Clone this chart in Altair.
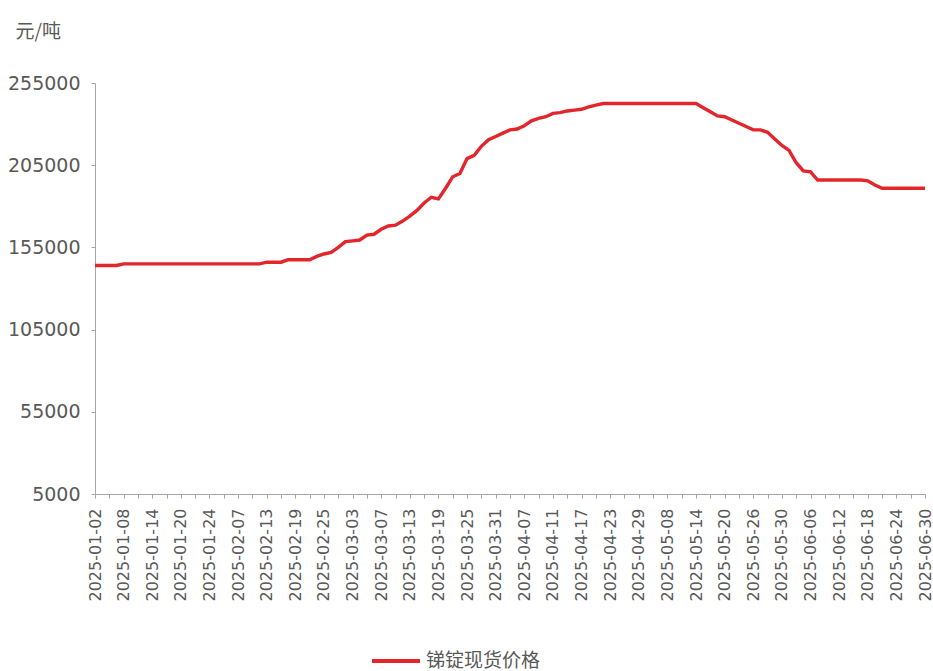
import json
import altair as alt
import pandas as pd

dates = [
    "2025-01-02", "2025-01-03", "2025-01-06", "2025-01-07", "2025-01-08", "2025-01-09",
    "2025-01-10", "2025-01-13", "2025-01-14", "2025-01-15", "2025-01-16", "2025-01-17",
    "2025-01-20", "2025-01-21", "2025-01-22", "2025-01-23", "2025-01-24", "2025-01-27",
    "2025-02-05", "2025-02-06", "2025-02-07", "2025-02-10", "2025-02-11", "2025-02-12",
    "2025-02-13", "2025-02-14", "2025-02-17", "2025-02-18", "2025-02-19", "2025-02-20",
    "2025-02-21", "2025-02-24", "2025-02-25", "2025-02-26", "2025-02-27", "2025-02-28",
    "2025-03-03", "2025-03-04", "2025-03-05", "2025-03-06", "2025-03-07", "2025-03-10",
    "2025-03-11", "2025-03-12", "2025-03-13", "2025-03-14", "2025-03-17", "2025-03-18",
    "2025-03-19", "2025-03-20", "2025-03-21", "2025-03-24", "2025-03-25", "2025-03-26",
    "2025-03-27", "2025-03-28", "2025-03-31", "2025-04-01", "2025-04-02", "2025-04-03",
    "2025-04-07", "2025-04-08", "2025-04-09", "2025-04-10", "2025-04-11", "2025-04-14",
    "2025-04-15", "2025-04-16", "2025-04-17", "2025-04-18", "2025-04-21", "2025-04-22",
    "2025-04-23", "2025-04-24", "2025-04-25", "2025-04-28", "2025-04-29", "2025-04-30",
    "2025-05-06", "2025-05-07", "2025-05-08", "2025-05-09", "2025-05-12", "2025-05-13",
    "2025-05-14", "2025-05-15", "2025-05-16", "2025-05-19", "2025-05-20", "2025-05-21",
    "2025-05-22", "2025-05-23", "2025-05-26", "2025-05-27", "2025-05-28", "2025-05-29",
    "2025-05-30", "2025-06-03", "2025-06-04", "2025-06-05", "2025-06-06", "2025-06-09",
    "2025-06-10", "2025-06-11", "2025-06-12", "2025-06-13", "2025-06-16", "2025-06-17",
    "2025-06-18", "2025-06-19", "2025-06-20", "2025-06-23", "2025-06-24", "2025-06-25",
    "2025-06-26", "2025-06-27", "2025-06-30",
]

prices = [
    144000, 144000, 144000, 144000,
    145000, 145000, 145000, 145000, 145000, 145000, 145000, 145000, 145000, 145000,
    145000, 145000, 145000, 145000, 145000, 145000, 145000, 145000, 145000, 145000,
    146000, 146000, 146000,
    147500, 147500, 147500, 147500,
    149500, 151000, 152000, 155000, 158500, 159000, 159500, 162500, 163000, 166000,
    168000, 168500, 171000, 174000, 177500, 182000, 185500, 184500, 191000, 198000,
    200000, 209000, 211000, 216500, 220500, 222500, 224500, 226500, 227000, 229000,
    232000, 233500, 234500, 236500, 237000, 238000, 238500, 239000, 240500, 241500,
    242500, 242500, 242500, 242500, 242500, 242500, 242500, 242500, 242500, 242500,
    242500, 242500, 242500, 242500,
    240000, 237500, 235000, 234500, 232500, 230500, 228500, 226500, 226500, 225000,
    221000, 217000, 214000, 206500, 201500, 201000,
    196000, 196000, 196000, 196000, 196000, 196000, 196000,
    195500, 193000,
    191000, 191000, 191000, 191000, 191000, 191000, 191000,
]

label_dates = [
    "2025-01-02", "2025-01-08", "2025-01-14", "2025-01-20", "2025-01-24", "2025-02-07",
    "2025-02-13", "2025-02-19", "2025-02-25", "2025-03-03", "2025-03-07", "2025-03-13",
    "2025-03-19", "2025-03-25", "2025-03-31", "2025-04-07", "2025-04-11", "2025-04-17",
    "2025-04-23", "2025-04-29", "2025-05-08", "2025-05-14", "2025-05-20", "2025-05-26",
    "2025-05-30", "2025-06-06", "2025-06-12", "2025-06-18", "2025-06-24", "2025-06-30",
]
tick_dates = dates[::2]
y_ticks = [5000, 55000, 105000, 155000, 205000, 255000]
series_name = "锑锭现货价格"
unit_label = "元/吨"

df = pd.DataFrame({"date": dates, "price": prices, "series": series_name})

label_expr = "indexof(%s, datum.value) >= 0 ? datum.value : ''" % json.dumps(label_dates)

GRAY = "#595959"
AXIS = "#a6a6a6"
RED = "#e3262c"

chart = alt.Chart(df).mark_line(strokeWidth=3.4).encode(
    x=alt.X(
        "date:O",
        sort=None,
        scale=alt.Scale(type="point", padding=0),
        axis=alt.Axis(
            values=tick_dates,
            labelExpr=label_expr,
            labelAngle=-90,
            labelFont="DejaVu Sans",
            labelFontSize=16,
            labelColor=GRAY,
            labelPadding=10,
            labelOverlap=False,
            tickSize=4,
            tickColor=AXIS,
            domainColor=AXIS,
            grid=False,
            title=None,
        ),
    ),
    y=alt.Y(
        "price:Q",
        scale=alt.Scale(domain=[5000, 255000], nice=False, zero=False),
        axis=alt.Axis(
            values=y_ticks,
            format="d",
            labelFont="DejaVu Sans",
            labelFontSize=19,
            labelColor=GRAY,
            labelPadding=11,
            tickSize=4,
            tickColor=AXIS,
            domainColor=AXIS,
            grid=False,
            title=unit_label,
            titleAngle=0,
            titleX=-80,
            titleY=-46,
            titleAlign="left",
            titleBaseline="alphabetic",
            titleFont="Noto Sans CJK SC",
            titleFontSize=19,
            titleFontWeight="normal",
            titleColor=GRAY,
        ),
    ),
    color=alt.Color(
        "series:N",
        scale=alt.Scale(range=[RED]),
        legend=alt.Legend(
            title=None,
            orient="none",
            legendX=275,
            legendY=552,
            symbolType="stroke",
            symbolSize=2304,
            symbolStrokeWidth=4,
            labelFont="Noto Sans CJK SC",
            labelFontSize=19,
            labelColor=GRAY,
        ),
    ),
).properties(
    width=830,
    height=411,
    autosize=alt.AutoSizeParams(type="none"),
    padding={"left": 95, "top": 83, "right": 8, "bottom": 177},
).configure_view(stroke=None)

chart.save("out.html", embed_options={"renderer": "svg", "actions": False})
